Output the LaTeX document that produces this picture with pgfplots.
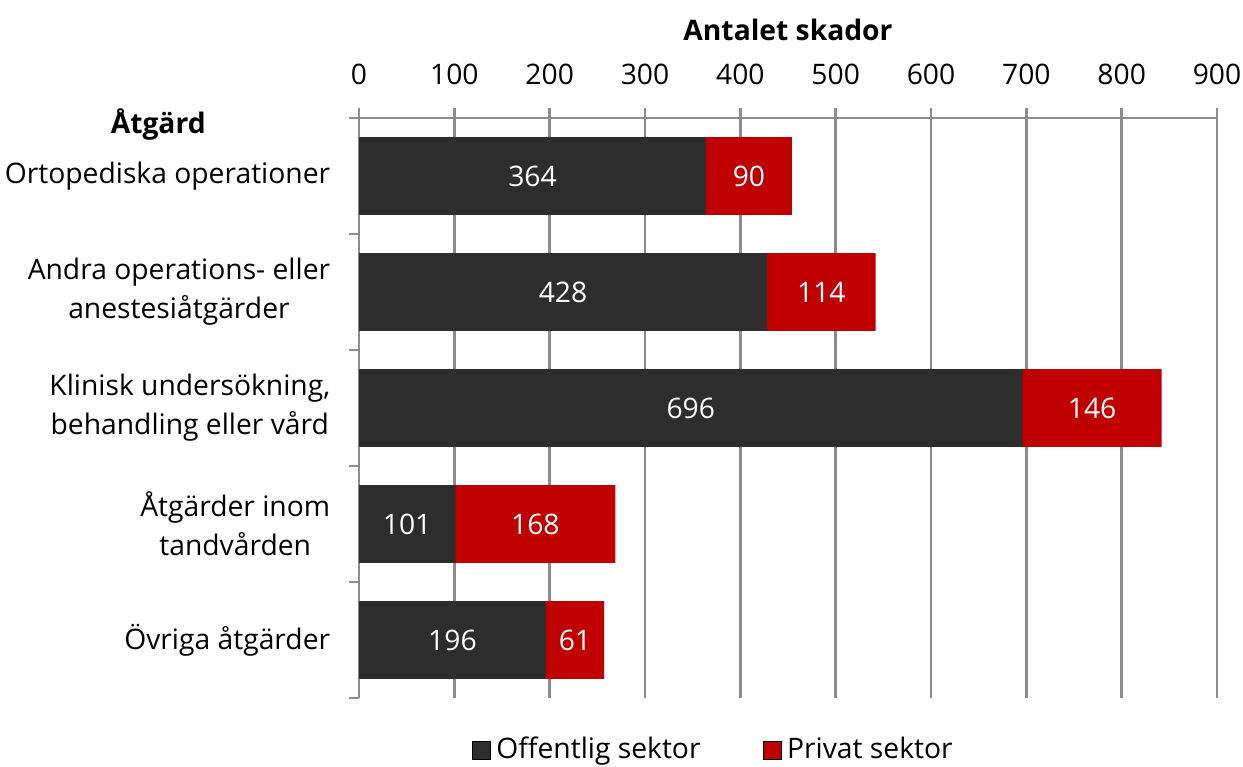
\documentclass[border=0pt]{standalone}
\usepackage{fontspec}
\setmainfont{Open Sans}
\usepackage{pgfplots}
\pgfplotsset{compat=1.18}
\definecolor{pub}{HTML}{2D2D2D}
\definecolor{priv}{HTML}{C00000}
\definecolor{gridc}{HTML}{8C8C8C}
\newcommand{\fs}{\fontsize{11.3}{15.6}\selectfont}
\begin{document}
\begin{tikzpicture}
\useasboundingbox (0,0) rectangle (497.2pt,306.8pt);
\begin{axis}[
  at={(143.6pt,27.6pt)}, anchor=south west,
  scale only axis, width=343.2pt, height=232pt,
  xmin=0, xmax=900, ymin=0, ymax=5,
  axis x line=top, axis y line=left,
  axis line style={-, gridc, line width=1pt},
  tick align=outside,
  xtick={0,100,...,900},
  /pgf/number format/assume math mode=true,
  ytick={0.5,1.5,2.5,3.5,4.5},
  yticklabels={Övriga åtgärder, {Åtgärder inom\\tandvården}, {Klinisk undersökning,\\behandling eller vård}, {Andra operations- eller\\anestesiåtgärder}, Ortopediska operationer},
  minor ytick={0,1,2,3,4,5},
  major tick length=4pt, minor tick length=4pt,
  major y tick style={draw=none},
  tick style={gridc, line width=1pt},
  minor tick style={gridc, line width=1pt},
  xmajorgrids, grid style={gridc, line width=1pt},
  yticklabel style={font=\fs, align=center, anchor=east, xshift=-4pt},
  xticklabel style={font=\fs, anchor=base, yshift=9.2pt},
  xlabel={\bfseries Antalet skador},
  xlabel style={at={(axis description cs:0.5,1.1517)}, anchor=center, font=\fs},
  ylabel={\bfseries Åtgärd},
  ylabel style={rotate=-90, at={(axis description cs:-0.234,0.988)}, anchor=center, font=\fs},
  legend style={draw=none, legend columns=2, at={(axis description cs:0.415,-0.0897)}, anchor=center,
    font=\fs,
    /tikz/every even column/.append style={column sep=23pt}},
  legend image code/.code={\fill[#1] (0pt,-3.6pt) rectangle (7.2pt,3.6pt);},
]
\addplot[xbar, bar width=0.672, bar shift=0, fill=priv, draw=none, forget plot]
  coordinates {(454,4.5) (542,3.5) (842,2.5) (269,1.5) (257,0.5)};
\addplot[xbar, bar width=0.672, bar shift=0, fill=pub, draw=none, forget plot]
  coordinates {(364,4.5) (428,3.5) (696,2.5) (101,1.5) (196,0.5)};
\addplot[draw=none, mark=none, forget plot, nodes near coords, point meta=explicit symbolic,
  every node near coord/.style={anchor=center, text=white, font=\fs}]
  coordinates {(182,4.5) [364] (214,3.5) [428] (348,2.5) [696] (50.5,1.5) [101] (98,0.5) [196]
               (409,4.5) [90] (485,3.5) [114] (769,2.5) [146] (185,1.5) [168] (226.5,0.5) [61]};
\addlegendimage{fill=pub}
\addlegendentry{Offentlig sektor}
\addlegendimage{fill=priv}
\addlegendentry{Privat sektor}
\end{axis}
\end{tikzpicture}
\end{document}
